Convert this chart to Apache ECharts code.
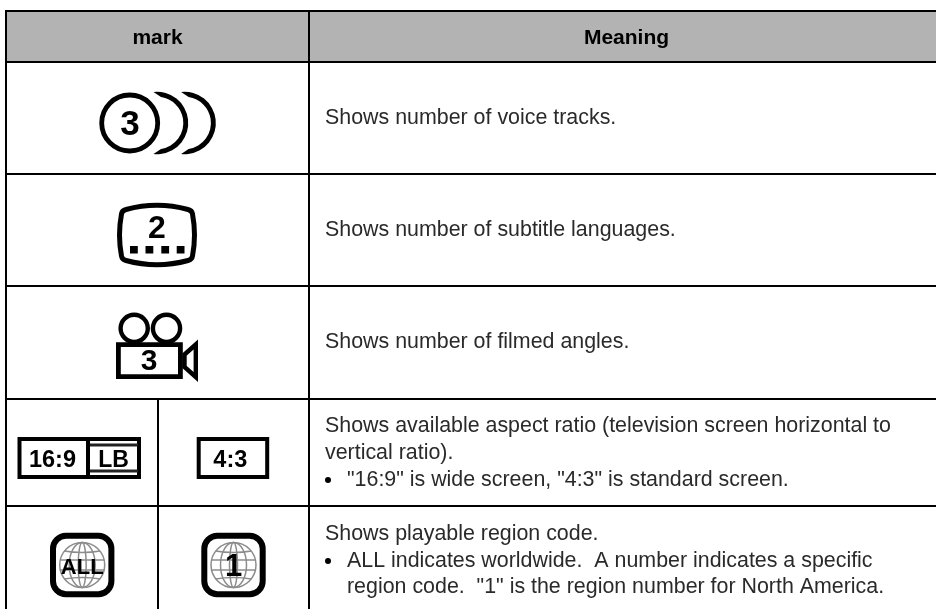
<!DOCTYPE html>
<html><head><meta charset="utf-8">
<style>html,body{margin:0;padding:0;background:#fff}#c{width:936px;height:609px}</style>
<script src="https://cdn.jsdelivr.net/npm/echarts@6/dist/echarts.min.js"></script>
</head><body><div id="c"></div>
<script>
const headers = ["mark", "Meaning"];
const voiceMark = "3";
const subtitleMark = "2";
const angleMark = "3";
const aspectMarks = ["16:9", "LB", "4:3"];
const regionMarks = ["ALL", "1"];
const meaningVoice = ["Shows number of voice tracks."];
const meaningSubtitle = ["Shows number of subtitle languages."];
const meaningAngle = ["Shows number of filmed angles."];
const meaningAspect = ["Shows available aspect ratio (television screen horizontal to", "vertical ratio).", "\"16:9\" is wide screen, \"4:3\" is standard screen."];
const meaningRegion = ["Shows playable region code.", "ALL indicates worldwide.  A number indicates a specific", "region code.  \"1\" is the region number for North America."];

const FONT = '"Liberation Sans", Arial, sans-serif';
const g = [];
let z = 1, pid = 0;
function rect(x, y, w, h, style, r) { g.push({ type: 'rect', z: z++, shape: { x, y, width: w, height: h, r: r || 0 }, style }); }
function hline(x1, x2, y, w, c) { rect(x1, y - (w || 2) / 2, x2 - x1, w || 2, { fill: c || '#000' }); }
function vline(x, y1, y2) { rect(x - 1, y1, 2, y2 - y1, { fill: '#000' }); }
function path(d, style) {
  const name = 'iconPath' + (pid++);
  echarts.graphic.registerShape(name, echarts.graphic.extendPath(d, {}));
  g.push({ type: name, z: z++, style });
}
function circle(cx, cy, r, style) { g.push({ type: 'circle', z: z++, shape: { cx, cy, r }, style }); }
function text(t, x, y, size, weight, align, fill) {
  g.push({ type: 'text', z: z++, x, y, style: { text: t, font: (weight || 'normal') + ' ' + size + 'px ' + FONT, fill: fill || '#000', align: align || 'center', verticalAlign: 'middle' } });
}
const black = { fill: 'none', stroke: '#000', lineWidth: 5 };

// header and grid
rect(6, 11, 930, 51, { fill: '#b3b3b3' });
hline(5, 936, 11); hline(5, 936, 62); hline(5, 936, 174); hline(5, 936, 286); hline(5, 936, 399); hline(5, 936, 506);
vline(6, 10, 609); vline(309, 10, 609); vline(158, 399, 609);
text(headers[0], 157.5, 38.5, 21, 'bold');
text(headers[1], 626.5, 38.5, 21, 'bold');

// voice tracks
circle(129.7, 123, 28, { fill: '#fff', stroke: '#000', lineWidth: 4.8 });
text(voiceMark, 130, 125, 35, 'bold');
[0, 27.6].forEach(function (dx) {
  path('M' + (153.5 + dx) + ' 92 A31.2 31.2 0 1 1 ' + (153.5 + dx) + ' 154 L' + (161 + dx) + ' 149 A26.3 26.3 0 0 0 ' + (161 + dx) + ' 97 Z', { fill: '#000' });
});

// subtitles
path('M126 209.5 Q157 201 188 209.5 Q192 210.5 192.5 214 Q196.5 235 192.5 256 Q192 259.5 188 260.5 Q157 269 126 260.5 Q122 259.5 121.5 256 Q117.5 235 121.5 214 Q122 210.5 126 209.5 Z', black);
text(subtitleMark, 157, 229.5, 32, 'bold');
[130, 145.5, 161.3, 176.7].forEach(function (x) { rect(x, 246, 7.8, 7.5, { fill: '#000' }); });

// angles
circle(134.2, 328.3, 13.6, { fill: '#fff', stroke: '#000', lineWidth: 4.4 });
circle(166.5, 328.3, 13.6, { fill: '#fff', stroke: '#000', lineWidth: 4.4 });
rect(118.4, 344.6, 62, 32, { fill: '#fff', stroke: '#000', lineWidth: 4.8 });
path('M184.5 354.5 L195.8 344.5 L195.8 377 L184.5 367 Z', { fill: '#fff', stroke: '#000', lineWidth: 4.4 });
text(angleMark, 149, 361.5, 30, 'bold');

// aspect
rect(19.5, 439, 119.5, 38, { fill: '#fff', stroke: '#000', lineWidth: 4 });
rect(86, 438, 4, 40, { fill: '#000' });
hline(90, 138, 445, 2.8, '#222');
hline(90, 138, 471, 2.8, '#222');
text(aspectMarks[0], 52.5, 460.5, 23.5, 'bold');
text(aspectMarks[1], 113.5, 460.5, 23, 'bold');
rect(198.7, 439, 68.5, 38, { fill: '#fff', stroke: '#000', lineWidth: 4 });
text(aspectMarks[2], 230.3, 460.5, 23.5, 'bold');

// region
function globe(cx, cy) {
  const s = { fill: 'none', stroke: '#8c8c8c', lineWidth: 1.5 };
  circle(cx, cy, 22.5, s);
  g.push({ type: 'ellipse', z: z++, shape: { cx, cy, rx: 13, ry: 22.5 }, style: s });
  g.push({ type: 'ellipse', z: z++, shape: { cx, cy, rx: 4, ry: 22.5 }, style: s });
  path('M' + (cx - 18) + ' ' + (cy - 14) + ' Q' + cx + ' ' + (cy - 11) + ' ' + (cx + 18) + ' ' + (cy - 14), s);
  path('M' + (cx - 18) + ' ' + (cy + 14) + ' Q' + cx + ' ' + (cy + 11) + ' ' + (cx + 18) + ' ' + (cy + 14), s);
  hline(cx - 22, cx + 22, cy - 5, 1.5, '#8c8c8c');
  hline(cx - 22, cx + 22, cy + 5, 1.5, '#8c8c8c');
}
[[82.2, regionMarks[0], 22], [233.5, regionMarks[1], 31]].forEach(function (d) {
  rect(d[0] - 29.2, 535.8, 58.4, 58.4, { fill: '#fff', stroke: '#000', lineWidth: 6 }, 13);
  globe(d[0], 565);
  text(d[1], d[0], 567.5, d[2], 'bold');
});

// meanings
const BODY = 21.4, BC = '#2a2a2a';
text(meaningVoice[0], 325, 118, BODY, 'normal', 'left', BC);
text(meaningSubtitle[0], 325, 230, BODY, 'normal', 'left', BC);
text(meaningAngle[0], 325, 342, BODY, 'normal', 'left', BC);
text(meaningAspect[0], 325, 426.5, BODY, 'normal', 'left', BC);
text(meaningAspect[1], 325, 453.5, BODY, 'normal', 'left', BC);
circle(328, 480, 3, { fill: '#000' });
text(meaningAspect[2], 347, 480, BODY, 'normal', 'left', BC);
text(meaningRegion[0], 325, 534, BODY, 'normal', 'left', BC);
circle(328, 561, 3, { fill: '#000' });
text(meaningRegion[1], 347, 561, BODY, 'normal', 'left', BC);
text(meaningRegion[2], 347, 587.5, BODY, 'normal', 'left', BC);

const chart = echarts.init(document.getElementById('c'), null, { renderer: 'canvas', width: 936, height: 609 });
chart.setOption({ animation: false, backgroundColor: '#fff', graphic: { elements: g } });
</script></body></html>
